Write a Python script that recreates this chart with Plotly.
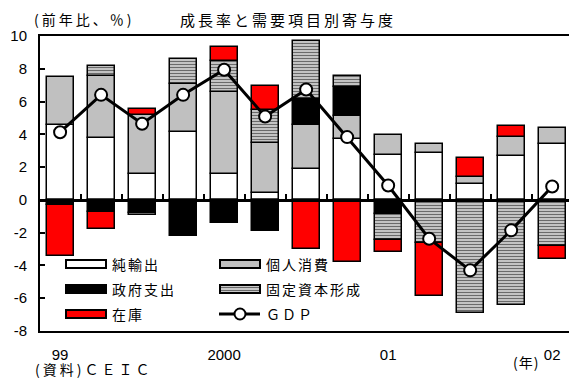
import plotly.graph_objects as go

# Quarterly contributions to real GDP growth (y/y, %), 1999Q1 - 2002Q1
quarters = list(range(13))
year_ticks = [0, 4, 8, 12]
year_labels = ["99", "2000", "01", "02"]

net_exports = [4.56, 3.77, 1.55, 4.13, 1.55, 0.42, 1.90, 3.73, 2.76, 2.85, 0.99, 2.67, 3.43]
consumption = [2.93, 3.76, 3.60, 2.95, 5.02, 3.04, 2.64, 1.36, 1.23, 0.58, 0.40, 1.16, 0.97]
government = [-0.29, -0.74, -0.78, -2.23, -1.41, -1.90, 1.63, 1.79, -0.88, None, None, None, None]
fixed_investment = [None, 0.63, -0.16, 1.49, 1.88, 2.04, 3.51, 0.65, -1.59, -2.61, -6.88, -6.43, -2.84]
inventory = [-3.15, -1.06, 0.37, None, 0.87, 1.42, -3.02, -3.79, -0.71, -3.26, 1.18, 0.67, -0.75]
gdp = [4.13, 6.41, 4.65, 6.41, 7.94, 5.09, 6.74, 3.83, 0.88, -2.37, -4.30, -1.86, 0.82]

y_ticks = [-8, -6, -4, -2, 0, 2, 4, 6, 8, 10]
y_labels = ["-8", "-6", "-4", "-2", "0", "2", "4", "6", "8", "10"]

series_names = ["純輸出", "個人消費", "政府支出", "固定資本形成", "在庫"]

W, H = 569, 379
PL, PR, PT, PB = 40, 569, 36, 331
X_RANGE = [-0.49, 12.41]
Y_RANGE = [-8, 10]

CJK = "Noto Sans CJK JP"
LATIN = "Liberation Sans, Arial"


def px(x):
    return (x - PL) / (PR - PL)


def py(y):
    return (PB - y) / (PB - PT)


hatch = dict(shape="-", size=3, solidity=0.45, fgcolor="#6a6a6a", bgcolor="#d6d6d6", fillmode="replace")
outline = dict(color="black", width=1.5)

fig = go.Figure()
fig.add_bar(x=quarters, y=net_exports, name=series_names[0],
            marker=dict(color="white", line=outline), width=0.66)
fig.add_bar(x=quarters, y=consumption, name=series_names[1],
            marker=dict(color="#c0c0c0", line=outline), width=0.66)
fig.add_bar(x=quarters, y=government, name=series_names[2],
            marker=dict(color="black", line=outline), width=0.66)
fig.add_bar(x=quarters, y=fixed_investment, name=series_names[3],
            marker=dict(color="#b0b0b0", pattern=hatch, line=outline), width=0.66)
fig.add_bar(x=quarters, y=inventory, name=series_names[4],
            marker=dict(color="#ff0000", line=outline), width=0.66)
fig.add_scatter(x=quarters, y=gdp, name="GDP", xaxis="x2", mode="lines+markers",
                line=dict(color="black", width=3),
                marker=dict(symbol="circle", size=12, color="white",
                            line=dict(color="black", width=2)))

fig.update_layout(
    width=W, height=H,
    margin=dict(l=PL, r=W - PR, t=PT, b=H - PB, pad=0),
    paper_bgcolor="white", plot_bgcolor="white",
    barmode="relative", bargap=0,
    showlegend=False,
    font=dict(family=LATIN, size=15, color="black"),
    xaxis=dict(range=X_RANGE, tickmode="array", tickvals=year_ticks, ticktext=year_labels,
               showgrid=False, zeroline=False, showline=True, linecolor="black", linewidth=2,
               mirror=True, ticks="", ticklabelstandoff=9,
               tickfont=dict(family=LATIN, size=15)),
    xaxis2=dict(range=X_RANGE, overlaying="x", anchor="free", position=8 / 18,
                tickmode="array", tickvals=[q + 0.5 for q in quarters[:-1]],
                showticklabels=False, ticks="inside", ticklen=5, tickwidth=1.5, tickcolor="black",
                showgrid=False, zeroline=False, showline=True, linecolor="black", linewidth=2.5),
    yaxis=dict(range=Y_RANGE, tickmode="array", tickvals=y_ticks, ticktext=y_labels,
               showgrid=False, zeroline=False, showline=True, linecolor="black", linewidth=2,
               ticks="inside", ticklen=5, tickwidth=1.5, tickcolor="black",
               ticklabelstandoff=8, tickfont=dict(family=LATIN, size=15)),
)

annotations = []
shapes = []


def text(x, y, s, size=14, spacing=2, anchor="left"):
    annotations.append(dict(
        xref="paper", yref="paper", x=px(x), y=py(y), xanchor=anchor, yanchor="middle",
        text=f'<span style="letter-spacing:{spacing}px">{s}</span>', showarrow=False,
        font=dict(family=CJK, size=size, color="black")))


# titles and notes
text(32, 19, "(前年比、％)", size=14, spacing=3)
text(178, 19, "成長率と需要項目別寄与度", size=15, spacing=3)
text(33, 369, "(資料)ＣＥＩＣ", size=14, spacing=3)
text(511, 362, "(年)", size=14, spacing=1)

# legend drawn as swatches + labels
rows = [264, 289, 314]
col_x = [66, 220]
swatches = [("white", series_names[0]), ("#c0c0c0", series_names[1]),
            ("black", series_names[2]), ("hatch", series_names[3]),
            ("#ff0000", series_names[4]), ("line", "ＧＤＰ")]
for i, (fill, label) in enumerate(swatches):
    r, c = divmod(i, 2)
    x0, yc = col_x[c], rows[r]
    x1 = x0 + 40
    if fill == "line":
        shapes.append(dict(type="line", xref="paper", yref="paper",
                           x0=px(x0 - 1), x1=px(x1), y0=py(yc), y1=py(yc),
                           line=dict(color="black", width=3)))
        rad = 5.5
        shapes.append(dict(type="circle", xref="paper", yref="paper",
                           x0=px(240 - rad), x1=px(240 + rad), y0=py(yc + rad), y1=py(yc - rad),
                           fillcolor="white", line=dict(color="black", width=2)))
    else:
        base = "#c8c8c8" if fill == "hatch" else fill
        shapes.append(dict(type="rect", xref="paper", yref="paper",
                           x0=px(x0), x1=px(x1), y0=py(yc + 4), y1=py(yc - 4),
                           fillcolor=base, line=dict(color="black", width=2)))
        if fill == "hatch":
            for dy in (-1.5, 1.5):
                shapes.append(dict(type="line", xref="paper", yref="paper",
                                   x0=px(x0 + 1), x1=px(x1 - 1), y0=py(yc + dy), y1=py(yc + dy),
                                   line=dict(color="#6a6a6a", width=1)))
    text(x1 + 4, yc, label, size=14, spacing=2)

fig.update_layout(annotations=annotations, shapes=shapes)
fig.write_html("out.html")
